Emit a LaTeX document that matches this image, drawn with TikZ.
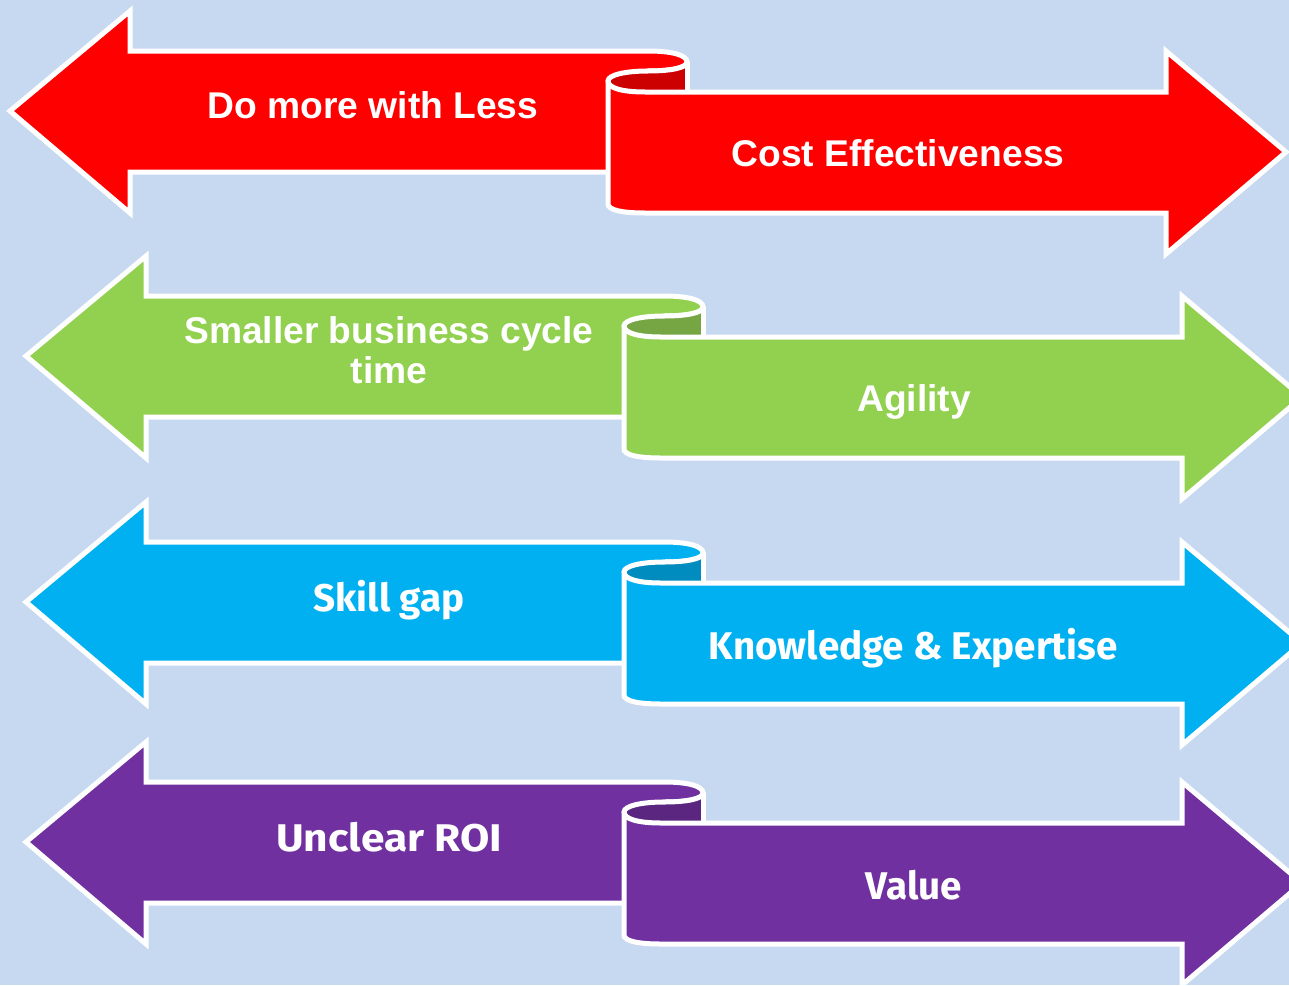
\documentclass[tikz,border=0pt]{standalone}
\usepackage{graphicx}
\usepackage{fontspec}
\setmainfont{Liberation Sans}
\newfontfamily\casual{Fira Sans}
\definecolor{bgc}{HTML}{C6D9F1}
\definecolor{redm}{HTML}{FF0000}
\definecolor{redd}{HTML}{CC0000}
\definecolor{grnm}{HTML}{92D050}
\definecolor{grnd}{HTML}{76A544}
\definecolor{blum}{HTML}{00B0F0}
\definecolor{blud}{HTML}{008CBF}
\definecolor{purm}{HTML}{7030A0}
\definecolor{purd}{HTML}{5A2680}
\tikzset{x=1pt,y=-1pt,
  band/.style={draw=white,line width=5pt,line join=miter,miter limit=10},
  lab/.style={text=white,font=\bfseries\fontsize{37.2}{39.5}\selectfont,align=center,inner sep=0pt},
  labc/.style={text=white,font=\casual\bfseries\fontsize{38.6}{41}\selectfont,align=center,inner sep=0pt}}
% #1 dx, #2 dy, #3 fill, #4 dark
\newcommand{\ribbon}[4]{%
 \begin{scope}[shift={(#1,#2)}]
  \path[band,fill=#3] (10,111) -- (130,11) -- (130,51) -- (648,51)
     .. controls (672,51) and (687,55) .. (687,62)
     .. controls (687,68) and (670,71) .. (648,71)
     -- (630,172) -- (130,172) -- (130,213) -- cycle;
  \path[fill=#4] (608,81) .. controls (608,75) and (625,71) .. (648,71)
     .. controls (670,71) and (687,68) .. (687,62) -- (687,92) -- (640,92)
     .. controls (622,92) and (608,88) .. (608,81) -- cycle;
  \draw[white,line width=5pt] (687,62) -- (687,93);
  \draw[white,line width=5pt,line cap=round] (608,81) .. controls (608,75) and (625,71) .. (648,71)
     .. controls (670,71) and (687,68) .. (687,62);
  \path[band,fill=#3,line cap=round] (608,81) .. controls (608,88) and (622,92) .. (645,92)
     -- (1166,92) -- (1166,51) -- (1286,152) -- (1166,254) -- (1166,213) -- (645,213)
     .. controls (622,213) and (608,210) .. (608,204) -- (608,81);
 \end{scope}}
\begin{document}
\begin{tikzpicture}
\useasboundingbox (0,0) rectangle (1289,985);
\clip (0,0) rectangle (1289,985);
\fill[bgc] (0,0) rectangle (1289,985);
\ribbon{0}{0}{redm}{redd}
\ribbon{16}{245}{grnm}{grnd}
\ribbon{16}{491}{blum}{blud}
\ribbon{16}{731}{purm}{purd}
\node[lab] (a1) at (373,105) {Do more with Less};
\node[lab] (a2) at (898,153) {Cost Effectiveness};
\node[lab] (b1) at (389,350) {Smaller business cycle\\time};
\node[lab] (b2) at (914,402) {Agility};
\node[labc] (c1) at (389,600) {Skill gap};
\node[labc] (c2) at (913,648) {Knowledge \& Expertise};
\node[labc] (d1) at (389,837) {\scalebox{1.1}[1]{Unclear ROI}};
\node[labc] (d2) at (914,885) {Value};
\end{tikzpicture}
\end{document}
